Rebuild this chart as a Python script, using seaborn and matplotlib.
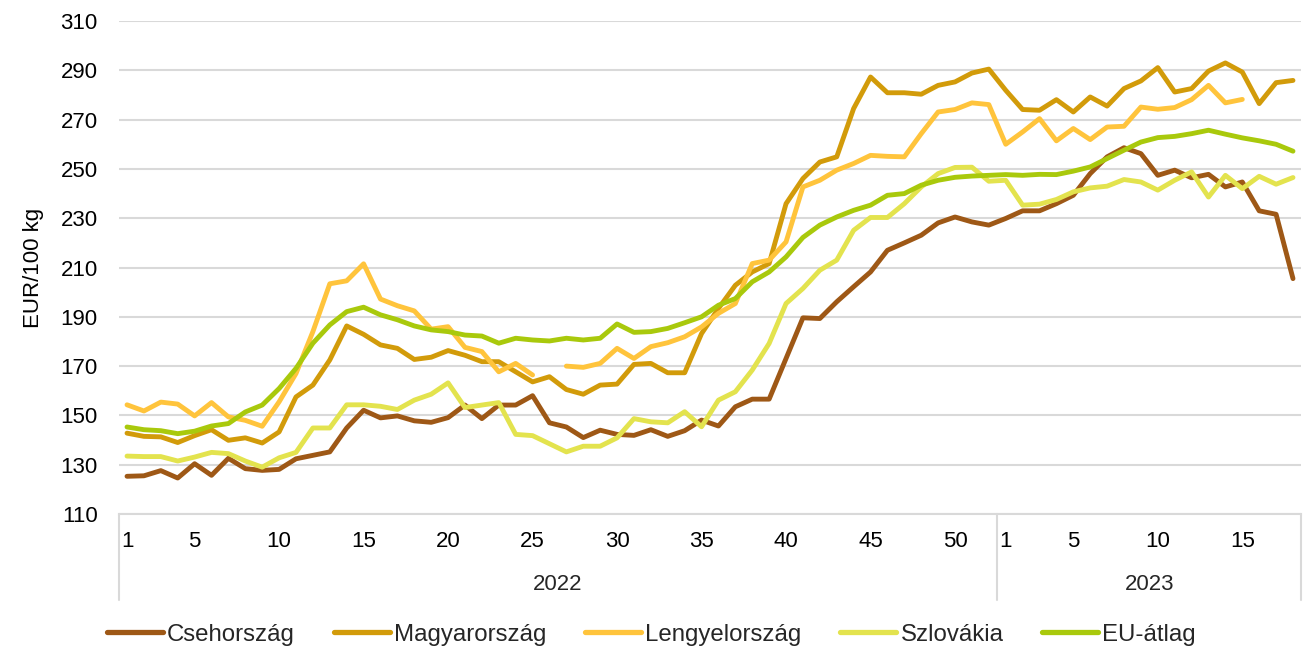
import matplotlib
matplotlib.use("Agg")
import matplotlib.pyplot as plt
from matplotlib.lines import Line2D
import seaborn as sns
import numpy as np
import pandas as pd

# heti árak, 2022 1-52. hét + 2023 1-18. hét
weeks_2022 = list(range(1, 53))
weeks_2023 = list(range(1, 19))

csehorszag = [125.3, 125.5, 127.6, 124.6, 130.4, 125.7, 132.6, 128.4, 127.7, 128.1,
              132.4, 133.8, 135.2, 144.9, 152.1, 149.0, 149.8, 147.8, 147.2, 149.1,
              154.2, 148.7, 154.2, 154.2, 158.0, 147.0, 145.3, 141.0, 144.0, 142.3,
              141.9, 144.2, 141.5, 143.8, 148.1, 145.7, 153.5, 156.6, 156.6, 173.1,
              189.6, 189.3, 196.1, 202.2, 208.2, 217.0, 220.0, 223.1, 228.1, 230.5,
              228.5, 227.2,
              229.9, 233.0, 233.0, 235.9, 239.3, 248.1, 254.9, 258.6, 256.2, 247.4,
              249.5, 246.4, 247.8, 242.7, 244.7, 233.0, 231.6, 205.5]
magyarorszag = [142.8, 141.5, 141.3, 139.0, 141.8, 144.2, 139.9, 140.9, 138.8, 143.3,
                157.5, 162.3, 172.5, 186.3, 182.9, 178.6, 177.2, 172.7, 173.6, 176.3,
                174.4, 171.8, 171.8, 167.7, 163.6, 165.7, 160.5, 158.6, 162.3, 162.7,
                170.7, 171.1, 167.3, 167.3, 183.2, 193.4, 202.8, 208.2, 211.6, 235.9,
                246.1, 252.8, 254.9, 274.5, 287.3, 280.9, 280.9, 280.3, 283.9, 285.3,
                288.9, 290.5,
                281.9, 274.1, 273.8, 278.1, 273.1, 279.2, 275.5, 282.6, 285.7, 291.1,
                281.2, 282.6, 289.7, 293.0, 289.3, 276.5, 285.0, 285.9]
lengyelorszag = [154.3, 151.8, 155.4, 154.6, 149.8, 155.2, 149.4, 148.0, 145.6, 155.5,
                 167.0, 184.0, 203.4, 204.6, 211.5, 197.2, 194.5, 192.4, 185.0, 186.0,
                 177.6, 175.9, 167.7, 171.1, 166.4, np.nan, 170.0, 169.5, 171.1, 177.2,
                 173.1, 177.9, 179.5, 181.9, 185.9, 191.4, 195.4, 211.6, 213.0, 220.4,
                 242.7, 245.4, 249.5, 252.2, 255.5, 255.1, 254.9, 264.3, 273.1, 274.1,
                 276.8, 276.1,
                 260.0, 265.0, 270.4, 261.4, 266.4, 261.9, 267.0, 267.3, 275.1, 274.2,
                 274.9, 278.1, 283.9, 276.8, 278.2, np.nan, np.nan, np.nan]
szlovakia = [133.5, 133.3, 133.3, 131.5, 133.1, 135.0, 134.5, 131.5, 129.0, 132.8,
             135.0, 144.9, 144.9, 154.3, 154.3, 153.7, 152.4, 156.2, 158.6, 163.2,
             153.2, 154.2, 155.2, 142.3, 141.8, 138.5, 135.2, 137.5, 137.5, 140.9,
             148.7, 147.4, 147.0, 151.5, 145.4, 156.2, 159.6, 168.4, 179.2, 195.4,
             201.5, 208.9, 213.0, 225.1, 230.3, 230.3, 235.9, 242.7, 248.1, 250.6,
             250.7, 245.0,
             245.4, 235.3, 235.7, 237.6, 240.7, 242.3, 243.0, 245.7, 244.7, 241.4,
             245.4, 248.8, 238.6, 247.4, 242.0, 247.0, 243.8, 246.5]
eu_atlag = [145.3, 144.2, 143.8, 142.6, 143.6, 145.7, 146.7, 151.4, 154.2, 160.9,
            169.1, 179.3, 186.7, 192.1, 193.9, 190.8, 188.8, 186.3, 184.7, 184.0,
            182.6, 182.2, 179.3, 181.3, 180.6, 180.2, 181.3, 180.6, 181.3, 187.1,
            183.7, 184.0, 185.3, 187.6, 190.0, 194.7, 197.4, 204.2, 208.2, 214.3,
            222.2, 227.2, 230.5, 233.2, 235.3, 239.3, 240.0, 243.4, 245.4, 246.6,
            247.1, 247.4,
            247.7, 247.4, 247.8, 247.7, 249.1, 250.8, 254.2, 257.6, 260.9, 262.7,
            263.2, 264.3, 265.7, 264.1, 262.6, 261.4, 260.0, 257.2]

series_names = ["Csehország", "Magyarország", "Lengyelország", "Szlovákia", "EU-átlag"]
series_values = [csehorszag, magyarorszag, lengyelorszag, szlovakia, eu_atlag]
colors = ["#9E5816", "#D29B0A", "#FFC43C", "#E3E34E", "#A9C90C"]

week_labels = [1, 5, 10, 15, 20, 25, 30, 35, 40, 45, 50]
week_labels_2023 = [1, 5, 10, 15]

# hosszú formátum, a hiányzó értékeknél új szakasz (unit) kezdődik
rows = []
for name, vals in zip(series_names, series_values):
    seg = 0
    for i, v in enumerate(vals):
        if np.isnan(v):
            seg += 1
            continue
        rows.append({"idx": i, "ar": v, "orszag": name, "unit": f"{name}_{seg}"})
df = pd.DataFrame(rows)

sns.set_theme(style="white")
plt.rcParams["font.family"] = ["Liberation Sans", "DejaVu Sans"]
FS = 16

fig = plt.figure(figsize=(13.03, 6.49), dpi=100)
ax = fig.add_axes([0.091, 0.208, 0.9078, 0.7596])

sns.lineplot(data=df, x="idx", y="ar", hue="orszag", units="unit", estimator=None,
             hue_order=series_names, palette=colors, linewidth=3.5, legend=False,
             ax=ax, solid_capstyle="round")

n = len(weeks_2022) + len(weeks_2023)
ax.set_xlim(-0.5, n - 0.5)
ax.set_ylim(110, 310)
ax.set_yticks(range(110, 311, 20))
ax.yaxis.grid(True, color="#D9D9D9", linewidth=1.5)
ax.set_axisbelow(True)
for s in ["top", "right", "left"]:
    ax.spines[s].set_visible(False)
ax.spines["bottom"].set_color("#D9D9D9")
ax.spines["bottom"].set_linewidth(1.5)
ax.tick_params(axis="y", length=0, pad=15, labelsize=FS, labelcolor="black")

# hét címkék
xt = [w - 1 for w in week_labels] + [len(weeks_2022) + w - 1 for w in week_labels_2023]
xl = [str(w) for w in week_labels] + [str(w) for w in week_labels_2023]
ax.set_xticks(xt)
ax.set_xticklabels(xl, fontsize=FS, color="black")
ax.tick_params(axis="x", length=0, pad=12)
ax.set_xlabel("")
ax.set_ylabel("EUR/100 kg", fontsize=FS, color="black", labelpad=12)

# évek és elválasztó vonalak
trans = ax.get_xaxis_transform()
for xb in [-0.5, len(weeks_2022) - 0.5, n - 0.5]:
    ax.add_line(Line2D([xb, xb], [0, -0.175], transform=trans, color="#D9D9D9",
                       linewidth=1.5, clip_on=False))
ax.text((len(weeks_2022) - 1) / 2, -0.143, "2022", transform=trans, ha="center",
        va="center", fontsize=FS)
ax.text(len(weeks_2022) + (len(weeks_2023) - 1) / 2, -0.143, "2023", transform=trans,
        ha="center", va="center", fontsize=FS)

handles = [Line2D([0], [0], color=c, linewidth=3.8) for c in colors]
fig.legend(handles, series_names, loc="center", bbox_to_anchor=(0.5, 0.022), ncol=5,
           frameon=False, fontsize=17.3, handlelength=2.33, handletextpad=0.17,
           columnspacing=1.62)

fig.savefig("out.png", dpi=100)
